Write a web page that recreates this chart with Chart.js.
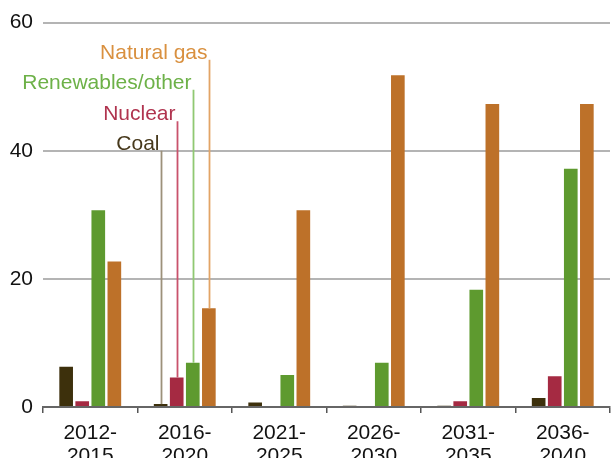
<!DOCTYPE html>
<html>
<head>
<meta charset="utf-8">
<script src="https://cdn.jsdelivr.net/npm/chart.js@4/dist/chart.umd.min.js"></script>
<style>
  html, body { margin: 0; padding: 0; background: #fff; }
  #wrap { width: 612px; height: 458px; position: relative; }
</style>
</head>
<body>
<div id="wrap"><canvas id="capacityChart"></canvas></div>
<script>
// additions by period, by fuel
const periods = [['2012-', '2015'], ['2016-', '2020'], ['2021-', '2025'], ['2026-', '2030'], ['2031-', '2035'], ['2036-', '2040']];
const seriesNames = ['Coal', 'Nuclear', 'Renewables/other', 'Natural gas'];
const coal = [6.3, 0.45, 0.7, 0.2, 0.2, 1.4];
const nuclear = [0.9, 4.6, 0, 0, 0.9, 4.8];
const renewables = [30.7, 6.9, 5.0, 6.9, 18.3, 37.2];
const naturalGas = [22.7, 15.4, 30.7, 51.8, 47.3, 47.3];
const yTicks = [0, 20, 40, 60];

const barColors = ['#3d300c', '#a52a42', '#5e9a2f', '#bd7129'];
const lineColors = ['#9c917a', '#c9526c', '#90c872', '#e2a466'];
const textColors = ['#47391c', '#b0344f', '#6db148', '#d9903f'];
// where each leader line ends above the 2016-2020 bars (value units)
const leaderTops = [40, 44.6, 49.5, 54.2];
const FONT = '"Liberation Sans", Arial, sans-serif';

// leader lines + labels hanging off the second group of bars
const leaderLabels = {
  id: 'leaderLabels',
  afterDatasetsDraw(chart) {
    const ctx = chart.ctx;
    const yScale = chart.scales.y;
    ctx.save();
    ctx.font = '21px ' + FONT;
    ctx.textAlign = 'right';
    ctx.textBaseline = 'alphabetic';
    chart.data.datasets.forEach((ds, i) => {
      const bar = chart.getDatasetMeta(i).data[1];
      const x = Math.round(bar.x) + 0.5;
      const top = yScale.getPixelForValue(leaderTops[i]);
      ctx.strokeStyle = lineColors[i];
      ctx.lineWidth = 1.8;
      ctx.beginPath();
      ctx.moveTo(x, top);
      ctx.lineTo(x, bar.y);
      ctx.stroke();
      ctx.fillStyle = textColors[i];
      ctx.fillText(seriesNames[i], x - 2, top - 1);
    });
    ctx.restore();
  }
};

const values = [coal, nuclear, renewables, naturalGas];

new Chart(document.getElementById('capacityChart'), {
  type: 'bar',
  data: {
    labels: periods,
    datasets: seriesNames.map((name, i) => ({
      label: name,
      data: values[i],
      backgroundColor: barColors[i],
      categoryPercentage: 0.68,
      barPercentage: 0.85
    }))
  },
  options: {
    responsive: true,
    maintainAspectRatio: false,
    animation: false,
    layout: { padding: { top: 17, right: 2, left: 0, bottom: 0 } },
    plugins: { legend: { display: false }, tooltip: { enabled: false } },
    scales: {
      x: {
        grid: { offset: true, drawOnChartArea: false, drawTicks: true, tickLength: 6, color: '#555', lineWidth: 1.5 },
        border: { display: true, color: '#666', width: 2 },
        ticks: { color: '#111', font: { family: FONT, size: 21, lineHeight: 1.1 }, padding: 9, maxRotation: 0, autoSkip: false },
        afterFit(scale) { scale.height = 51; }
      },
      y: {
        min: 0,
        max: 60,
        afterBuildTicks(scale) { scale.ticks = yTicks.map(v => ({ value: v })); },
        grid: { color: '#b4b4b4', lineWidth: 2, drawTicks: false },
        border: { display: false },
        ticks: { color: '#111', font: { family: FONT, size: 21 }, padding: 10 },
        afterFit(scale) { scale.width = 43; }
      }
    }
  },
  plugins: [leaderLabels]
});
</script>
</body>
</html>
